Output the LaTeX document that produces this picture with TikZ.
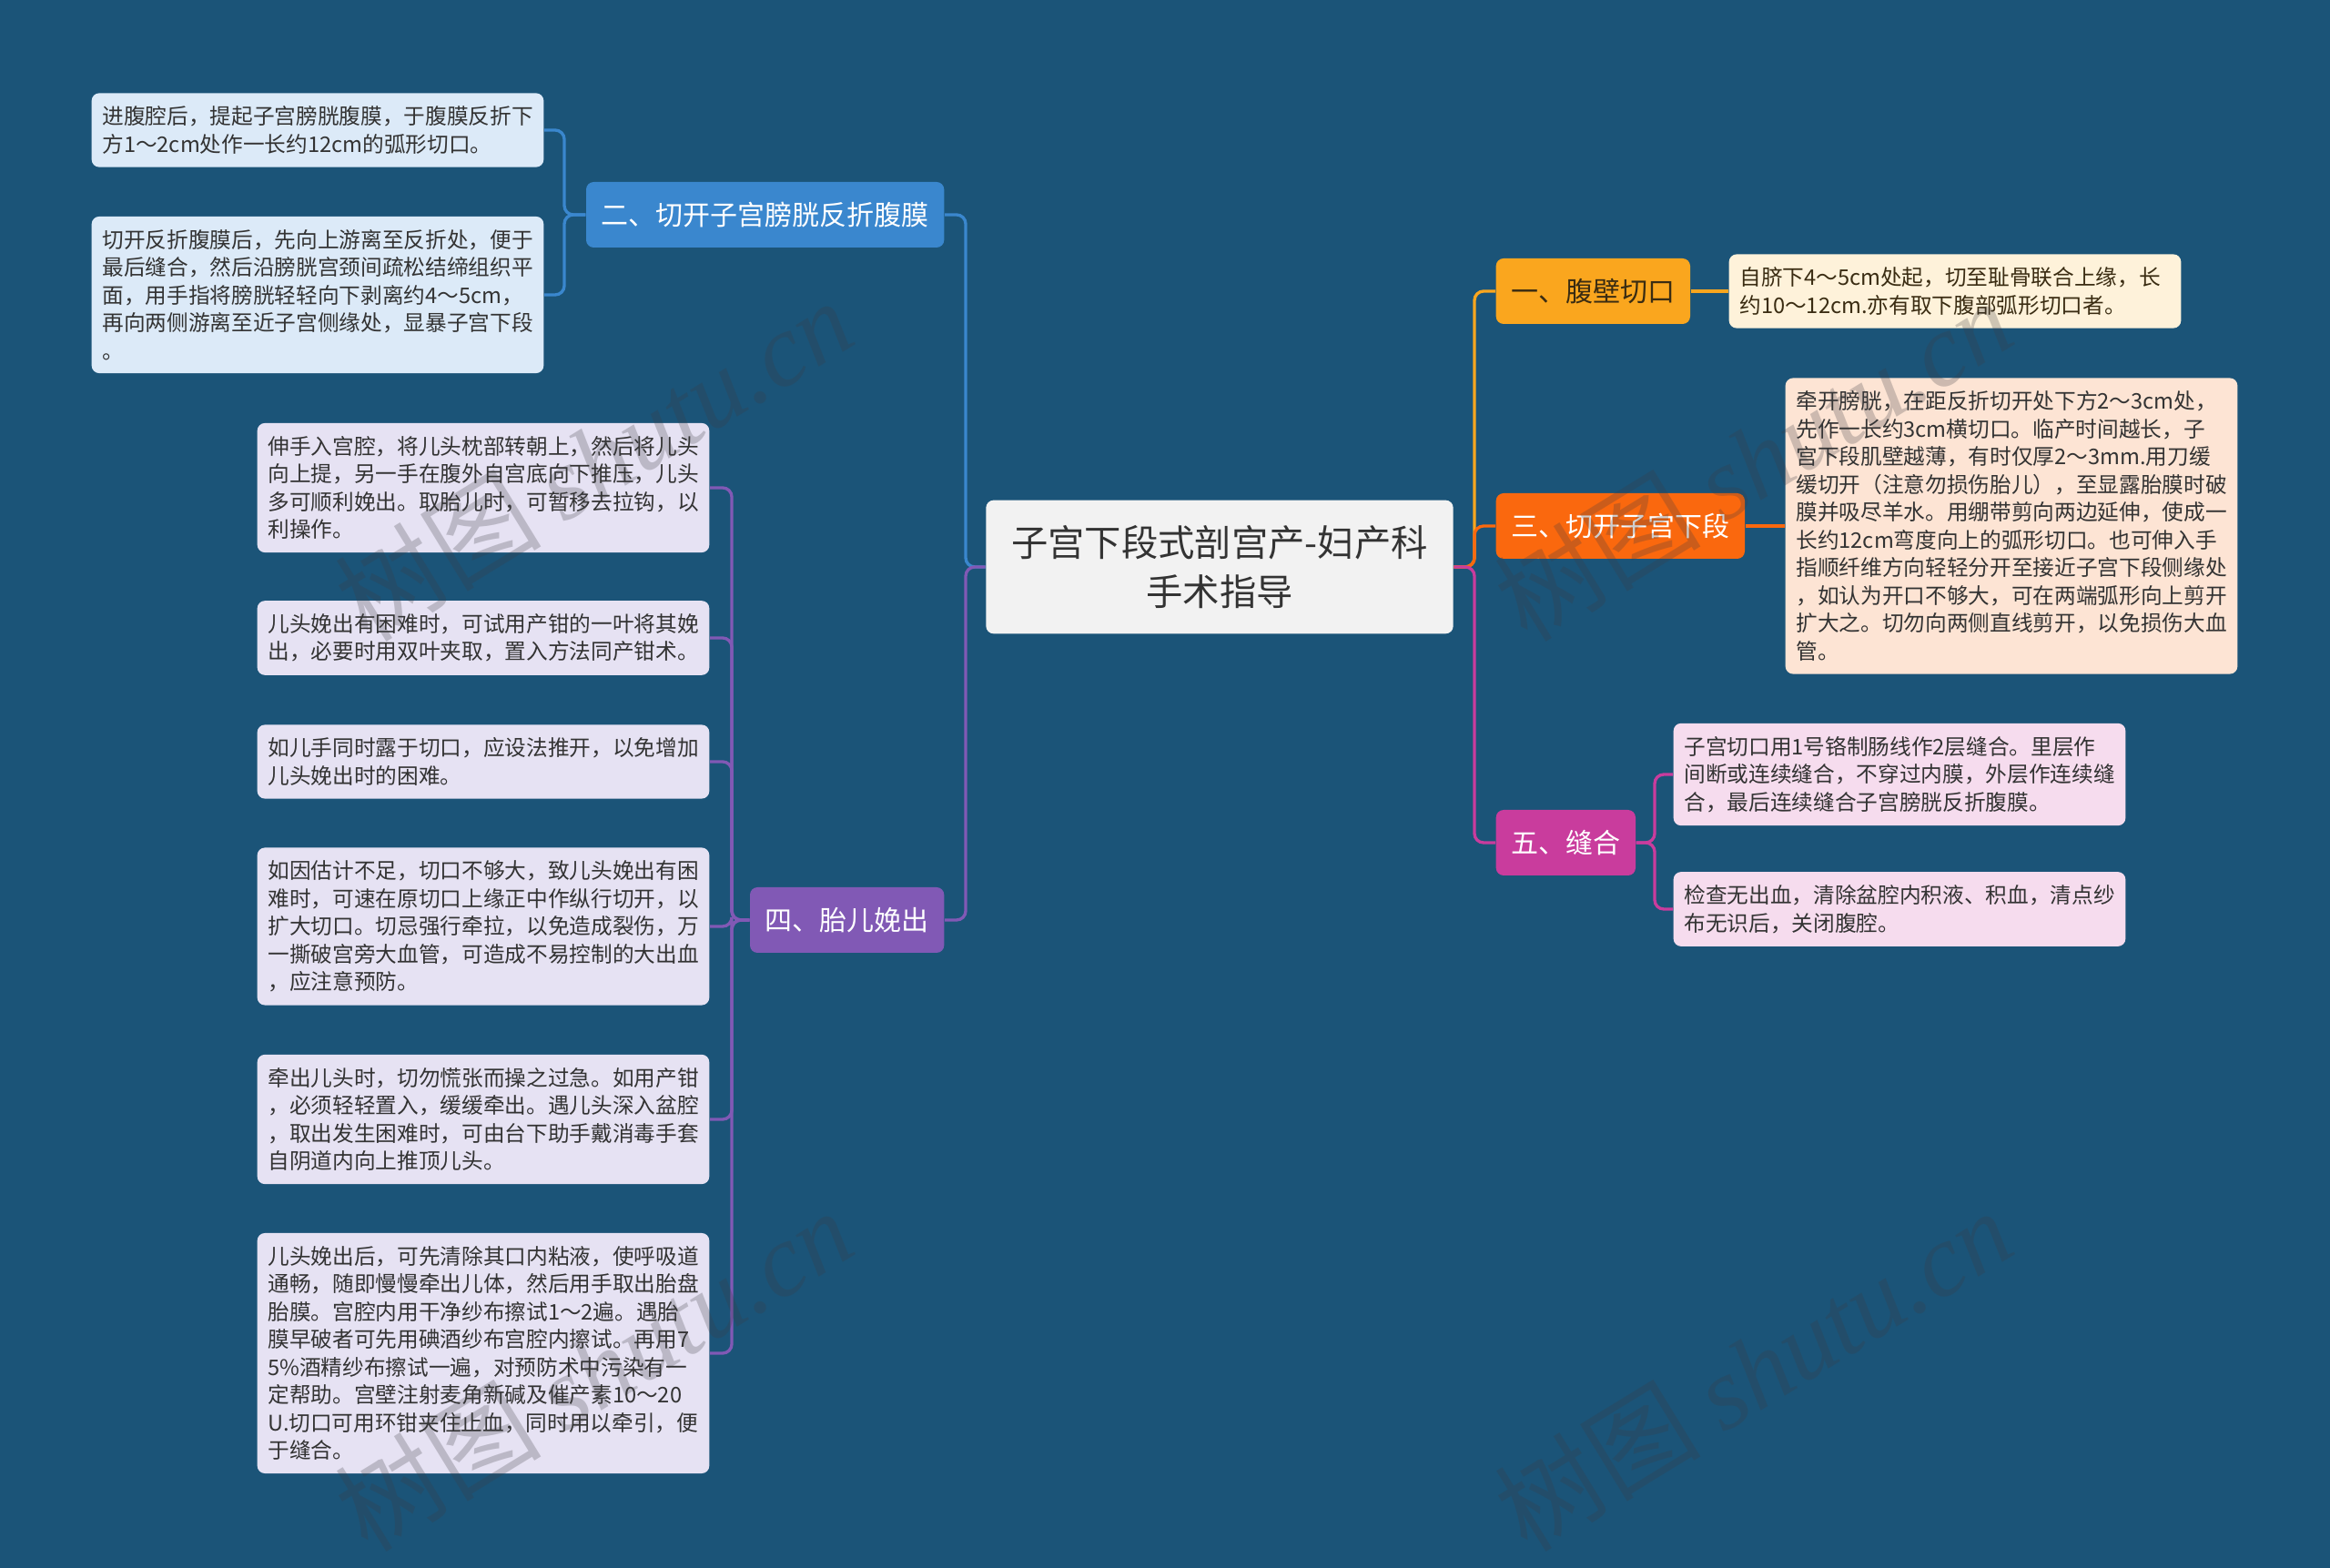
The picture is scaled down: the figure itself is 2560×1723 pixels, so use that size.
\documentclass[tikz,border=0pt]{standalone}
\usepackage{fontspec}
\setmainfont{Noto Sans CJK SC}
\newfontfamily\wmserif{Liberation Serif}
\usepackage{xcolor}
\definecolor{bgblue}{RGB}{27, 84, 120}
\definecolor{rootgray}{RGB}{242, 242, 242}
\definecolor{inkdark}{RGB}{51, 51, 51}
\definecolor{amber}{RGB}{250, 166, 30}
\definecolor{amberlight}{RGB}{254, 242, 218}
\definecolor{amberink}{RGB}{58, 44, 18}
\definecolor{rustorange}{RGB}{250, 104, 14}
\definecolor{rustlight}{RGB}{253, 228, 212}
\definecolor{plum}{RGB}{201, 60, 157}
\definecolor{plumlight}{RGB}{246, 220, 238}
\definecolor{skyblue}{RGB}{58, 135, 206}
\definecolor{skylight}{RGB}{220, 234, 248}
\definecolor{violet}{RGB}{129, 89, 181}
\definecolor{violetlight}{RGB}{230, 226, 243}
\definecolor{wmgray}{RGB}{60, 60, 66}
\usepackage{tikz}

\tikzset{
    topic/.style={rounded corners=2.5pt, minimum height=21.6pt, inner xsep=5pt, inner ysep=0pt, font=\fontsize{9pt}{11pt}\selectfont},
    detail/.style={rounded corners=2.5pt, text width=142pt, inner xsep=3.5pt, inner ysep=4.3pt, align=left, text=inkdark, font=\fontsize{7.1pt}{9.15pt}\selectfont},
    link/.style={line width=1pt, rounded corners=3pt},
    wmark/.style={text=wmgray, opacity=0.25, inner sep=0pt, font=\fontsize{34pt}{34pt}\selectfont}
}

\begin{document}
\begin{tikzpicture}[x=0.3pt, y=-0.3pt]
    \fill[bgblue] (0, 0) rectangle (2560, 1723);
    \useasboundingbox (0, 0) rectangle (2560, 1723);

    % centre
    \node[fill=rootgray, text=inkdark, rounded corners=2.5pt, minimum width=154pt, minimum height=44pt, align=center, font=\fontsize{12.1pt}{16.2pt}\selectfont] (root) at (1340, 623) {子宫下段式剖宫产-妇产科\\手术指导};

    % right branches
    \node[topic, fill=amber, text=amberink, anchor=west] (cut) at (1643, 320) {一、腹壁切口};
    \node[topic, fill=rustorange, text=white, anchor=west] (uterus) at (1643, 578) {三、切开子宫下段};
    \node[topic, fill=plum, text=white, anchor=west] (suture) at (1643, 926) {五、缝合};

    \node[detail, fill=amberlight, text=amberink, anchor=west] (cutA) at (1899, 320) {自脐下4～5cm处起，切至耻骨联合上缘，长\\约10～12cm.亦有取下腹部弧形切口者。};
    \node[detail, fill=rustlight, anchor=west] (uterusA) at (1961, 578) {牵开膀胱，在距反折切开处下方2～3cm处，\\先作一长约3cm横切口。临产时间越长，子\\宫下段肌壁越薄，有时仅厚2～3mm.用刀缓\\缓切开（注意勿损伤胎儿），至显露胎膜时破\\膜并吸尽羊水。用绷带剪向两边延伸，使成一\\长约12cm弯度向上的弧形切口。也可伸入手\\指顺纤维方向轻轻分开至接近子宫下段侧缘处\\，如认为开口不够大，可在两端弧形向上剪开\\扩大之。切勿向两侧直线剪开，以免损伤大血\\管。};
    \node[detail, fill=plumlight, anchor=west] (sutureA) at (1838, 851) {子宫切口用1号铬制肠线作2层缝合。里层作\\间断或连续缝合，不穿过内膜，外层作连续缝\\合，最后连续缝合子宫膀胱反折腹膜。};
    \node[detail, fill=plumlight, anchor=west] (sutureB) at (1838, 999) {检查无出血，清除盆腔内积液、积血，清点纱\\布无识后，关闭腹腔。};

    % left branches
    \node[topic, fill=skyblue, text=white, anchor=east] (fold) at (1038, 236) {二、切开子宫膀胱反折腹膜};
    \node[topic, fill=violet, text=white, anchor=east] (birth) at (1038, 1011) {四、胎儿娩出};

    \node[detail, fill=skylight, anchor=east] (foldA) at (598, 143) {进腹腔后，提起子宫膀胱腹膜，于腹膜反折下\\方1～2cm处作一长约12cm的弧形切口。};
    \node[detail, fill=skylight, anchor=east] (foldB) at (598, 324) {切开反折腹膜后，先向上游离至反折处，便于\\最后缝合，然后沿膀胱宫颈间疏松结缔组织平\\面，用手指将膀胱轻轻向下剥离约4～5cm，\\再向两侧游离至近子宫侧缘处，显暴子宫下段\\。};

    \node[detail, fill=violetlight, anchor=east] (birthA) at (780, 536) {伸手入宫腔，将儿头枕部转朝上，然后将儿头\\向上提，另一手在腹外自宫底向下推压，儿头\\多可顺利娩出。取胎儿时，可暂移去拉钩，以\\利操作。};
    \node[detail, fill=violetlight, anchor=east] (birthB) at (780, 701) {儿头娩出有困难时，可试用产钳的一叶将其娩\\出，必要时用双叶夹取，置入方法同产钳术。};
    \node[detail, fill=violetlight, anchor=east] (birthC) at (780, 837) {如儿手同时露于切口，应设法推开，以免增加\\儿头娩出时的困难。};
    \node[detail, fill=violetlight, anchor=east] (birthD) at (780, 1018) {如因估计不足，切口不够大，致儿头娩出有困\\难时，可速在原切口上缘正中作纵行切开，以\\扩大切口。切忌强行牵拉，以免造成裂伤，万\\一撕破宫旁大血管，可造成不易控制的大出血\\，应注意预防。};
    \node[detail, fill=violetlight, anchor=east] (birthE) at (780, 1230) {牵出儿头时，切勿慌张而操之过急。如用产钳\\，必须轻轻置入，缓缓牵出。遇儿头深入盆腔\\，取出发生困难时，可由台下助手戴消毒手套\\自阴道内向上推顶儿头。};
    \node[detail, fill=violetlight, anchor=east] (birthF) at (780, 1487) {儿头娩出后，可先清除其口内粘液，使呼吸道\\通畅，随即慢慢牵出儿体，然后用手取出胎盘\\胎膜。宫腔内用干净纱布擦试1～2遍。遇胎\\膜早破者可先用碘酒纱布宫腔内擦试。再用7\\5\%酒精纱布擦试一遍，对预防术中污染有一\\定帮助。宫壁注射麦角新碱及催产素10～20\\U.切口可用环钳夹住止血，同时用以牵引，便\\于缝合。};

    % trunks
    \coordinate (rtrunk) at (1620, 623);
    \coordinate (ltrunk) at (1061, 623);
    \coordinate (foldtrunk) at (620, 236);
    \coordinate (birthtrunk) at (804, 1011);
    \coordinate (suturetrunk) at (1818, 926);

    \draw[link, amber] (root.east) -- (rtrunk) |- (cut.west);
    \draw[link, rustorange] (root.east) -- (rtrunk) |- (uterus.west);
    \draw[link, plum] (root.east) -- (rtrunk) |- (suture.west);
    \draw[link, skyblue] (root.west) -- (ltrunk) |- (fold.east);
    \draw[link, violet] (root.west) -- (ltrunk) |- (birth.east);

    \draw[link, amber] (cut.east) -- (cutA.west);
    \draw[link, rustorange] (uterus.east) -- (uterusA.west);
    \draw[link, plum] (suture.east) -- (suturetrunk) |- (sutureA.west);
    \draw[link, plum] (suture.east) -- (suturetrunk) |- (sutureB.west);
    \draw[link, skyblue] (fold.west) -- (foldtrunk) |- (foldA.east);
    \draw[link, skyblue] (fold.west) -- (foldtrunk) |- (foldB.east);
    \draw[link, violet] (birth.west) -- (birthtrunk) |- (birthA.east);
    \draw[link, violet] (birth.west) -- (birthtrunk) |- (birthB.east);
    \draw[link, violet] (birth.west) -- (birthtrunk) |- (birthC.east);
    \draw[link, violet] (birth.west) -- (birthtrunk) |- (birthD.east);
    \draw[link, violet] (birth.west) -- (birthtrunk) |- (birthE.east);
    \draw[link, violet] (birth.west) -- (birthtrunk) |- (birthF.east);

    % watermark
    \node[wmark, rotate=31.5] (wmA) at (652, 505) {树图 {\wmserif\itshape shutu.cn}};
    \node[wmark, rotate=31.5] (wmB) at (1926, 505) {树图 {\wmserif\itshape shutu.cn}};
    \node[wmark, rotate=31.5] (wmC) at (652, 1505) {树图 {\wmserif\itshape shutu.cn}};
    \node[wmark, rotate=31.5] (wmD) at (1926, 1505) {树图 {\wmserif\itshape shutu.cn}};
\end{tikzpicture}
\end{document}
